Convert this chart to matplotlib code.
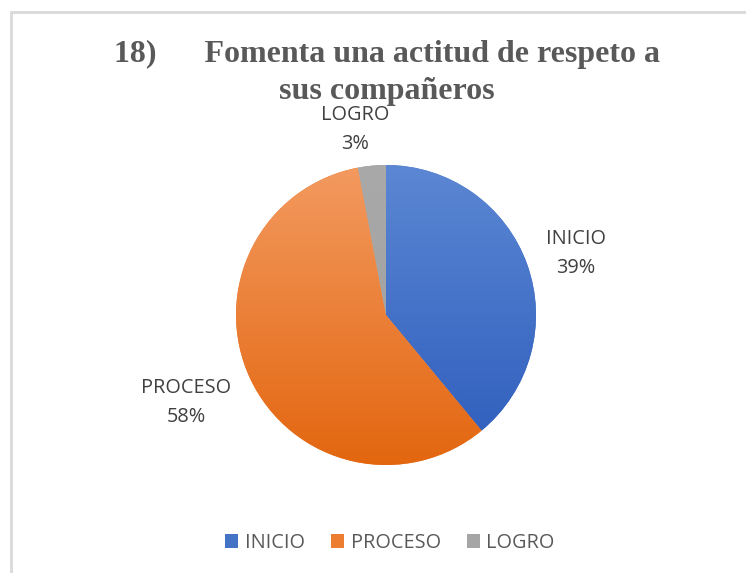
import numpy as np
import matplotlib
matplotlib.use("Agg")
import matplotlib.pyplot as plt
from matplotlib.patches import Rectangle, Patch
from matplotlib.colors import LinearSegmentedColormap

categories = ["INICIO", "PROCESO", "LOGRO"]
values = [39, 58, 3]
title_text = "18)      Fomenta una actitud de respeto a\nsus compañeros"

top_colors = ["#5b87d3", "#f39a60", "#a9a9a9"]
bottom_colors = ["#2d5cbc", "#e3660f", "#9e9e9e"]
legend_colors = ["#4472c4", "#ed7d31", "#a5a5a5"]

W, H = 746, 573
fig = plt.figure(figsize=(W / 100, H / 100), dpi=100)
fig.patch.set_facecolor("white")

# chart frame
fig.add_artist(Rectangle((10.5 / W, -0.1), 1.2, 1 - 11.5 / H + 0.1,
                         transform=fig.transFigure, fill=False,
                         edgecolor="#d9d9d9", linewidth=2, clip_on=False))

cx, cy, r = 386, 315, 150
ax = fig.add_axes([(cx - r) / W, (H - cy - r) / H, 2 * r / W, 2 * r / H])
ax.set_xlim(-1, 1)
ax.set_ylim(-1, 1)
ax.set_aspect("equal")
ax.axis("off")

wedges, _ = ax.pie(values, startangle=90, counterclock=False, radius=1,
                   colors=legend_colors, wedgeprops=dict(linewidth=0))

grad = np.linspace(0, 1, 256).reshape(-1, 1)
for w, c0, c1 in zip(wedges, top_colors, bottom_colors):
    cmap = LinearSegmentedColormap.from_list("g", [c0, c1])
    im = ax.imshow(grad, cmap=cmap, extent=(-1, 1, -1, 1), origin="upper",
                   aspect="auto", zorder=w.get_zorder() + 0.1)
    im.set_clip_path(w)

ax.set_xlim(-1, 1)
ax.set_ylim(-1, 1)

# data labels
total = sum(values)
label_dist = [1.29, 1.47, 1.24]
label_shift_x = [0.05, 0.0, -0.09]
label_shift_y = [-0.03, 0.04, 0.0]
start = 90.0
for i, (cat, v) in enumerate(zip(categories, values)):
    span = v / total * 360
    mid = np.deg2rad(start - span / 2)
    start -= span
    x = label_dist[i] * np.cos(mid) + label_shift_x[i]
    y = label_dist[i] * np.sin(mid) + label_shift_y[i]
    ax.text(x, y, f"{cat}\n{v}%", ha="center", va="center",
            fontsize=14.3, family="Open Sans", color="#404040",
            linespacing=1.6, clip_on=False)

fig.text(387 / W, 1 - 73 / H, title_text, ha="center", va="center",
         fontsize=23, family="Liberation Serif", fontweight="bold",
         color="#595959", linespacing=1.35)

handles = [Patch(facecolor=c, edgecolor="none") for c in legend_colors]
fig.legend(handles, categories, loc="center", bbox_to_anchor=(390 / W, 1 - 543 / H),
           ncol=3, frameon=False, prop={"family": "Open Sans", "size": 14.3},
           labelcolor="#595959", handlelength=0.65, handleheight=0.65,
           handletextpad=0.35, columnspacing=1.3)

fig.savefig("out.png", dpi=100)
